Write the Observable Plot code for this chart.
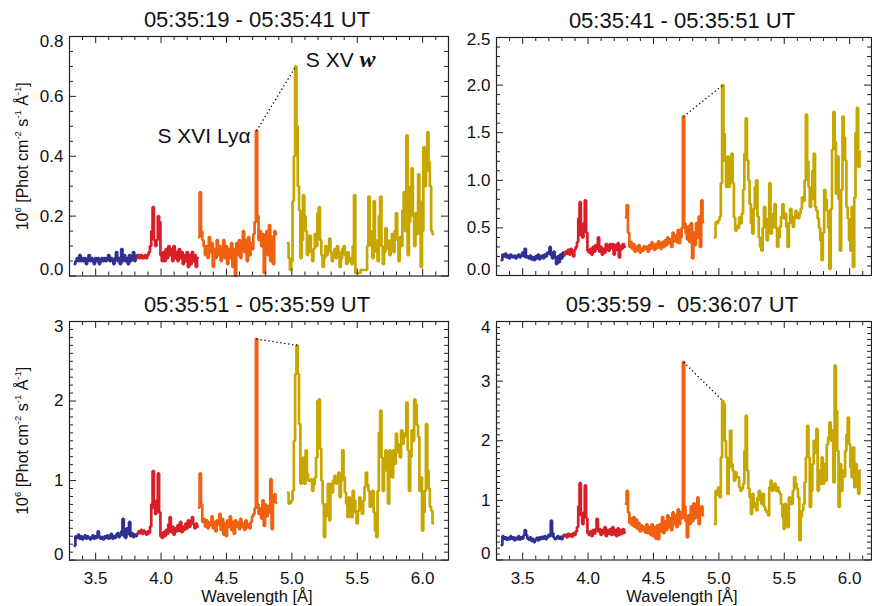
<!DOCTYPE html>
<html>
<head>
<meta charset="utf-8">
<script src="https://cdn.jsdelivr.net/npm/d3@7"></script>
<script src="https://cdn.jsdelivr.net/npm/@observablehq/plot@0.6"></script>
<style>
  body { margin: 0; background: #fff; }
  #chart { position: relative; width: 872px; height: 606px; overflow: hidden; background: #fff; }
  #chart svg { position: absolute; }
  #chart text { white-space: pre; }
</style>
</head>
<body>
<div id="chart"></div>
<script>
// ---------------- DATA ----------------
// wavelength grid (Å) of each detector segment: start and sampling step
const segStart = { blue: 3.34, red: 3.82, orange: 4.29, yellow: 4.97 };
const segStep = 0.01;

const titles = [
  "05:35:19 - 05:35:41 UT",
  "05:35:41 - 05:35:51 UT",
  "05:35:51 - 05:35:59 UT",
  "05:35:59 -  05:36:07 UT"
];

// Panel 1: 05:35:19 - 05:35:41
const p1Blue = [0.04,0.05,0.06,0.05,0.07,0.05,0.06,0.05,0.06,0.04, 0.05,0.07,0.05,0.06,0.05,0.04,0.06,0.05,0.06,0.04, 0.05,0.06,0.05,0.06,0.05,0.06,0.07,0.05,0.06,0.05, 0.04,0.06,0.08,0.05,0.06,0.04,0.09,0.05,0.07,0.05, 0.06,0.04,0.07,0.05,0.06,0.08,0.05,0.06,0.07];
const p1Red = [0.06,0.07,0.06,0.07,0.06,0.06,0.07,0.06,0.07,0.08, 0.10,0.15,0.23,0.12,0.10,0.12,0.20,0.18,0.07,0.05, 0.08,0.05,0.09,0.06,0.10,0.07,0.09,0.05,0.10,0.06, 0.08,0.05,0.09,0.06,0.08,0.04,0.07,0.05,0.08,0.03, 0.07,0.04,0.08,0.05,0.07,0.03,0.06];
const p1Orange = [0.13,0.28,0.15,0.12,0.10,0.07,0.10,0.06,0.13,0.08, 0.11,0.03,0.09,0.06,0.12,0.07,0.10,0.05,0.08,0.12, 0.06,0.10,0.04,0.09,0.06,0.11,0.03,0.09,0.00,0.11, 0.07,0.12,0.06,0.10,0.15,0.08,0.12,0.05,0.13,0.07, 0.11,0.09,0.14,0.18,0.485,0.20,0.12,0.15,0.10,0.14, 0.01,0.11,0.15,0.07,0.17,0.05,0.13,0.04,0.15,0.14];
const p1Yellow = [0.11,0.06,0.02,0.05,0.25,0.40,0.70,0.50,0.30,0.22, 0.06,0.12,0.27,0.20,0.15,0.07,0.10,0.135,0.08,0.05, 0.09,0.14,0.10,0.21,0.23,0.12,0.07,0.03,0.06,0.10, 0.07,0.09,0.125,0.08,0.05,0.07,0.09,0.06,0.10,0.08, 0.03,0.06,0.09,0.10,0.07,0.04,0.08,0.05,0.06,0.04, 0.10,0.27,0.01,0.01,0.01,0.01,0.02,0.02,0.02,0.02, 0.02,0.10,0.265,0.15,0.10,0.06,0.25,0.12,0.08,0.05, 0.20,0.265,0.10,0.04,0.08,0.16,0.12,0.09,0.07,0.12, 0.14,0.08,0.15,0.21,0.12,0.05,0.13,0.10,0.22,0.28, 0.15,0.47,0.07,0.18,0.30,0.36,0.20,0.10,0.21,0.14, 0.34,0.25,0.03,0.15,0.43,0.30,0.35,0.48,0.38,0.30, 0.15,0.14];

// Panel 2: 05:35:41 - 05:35:51
const p2Blue = [0.16,0.22,0.20,0.23,0.19,0.21,0.18,0.22,0.20,0.19, 0.21,0.18,0.20,0.22,0.19,0.21,0.24,0.20,0.28,0.19, 0.20,0.18,0.21,0.17,0.19,0.16,0.20,0.18,0.22,0.17, 0.19,0.21,0.18,0.22,0.20,0.24,0.23,0.30,0.21,0.18, 0.25,0.19,0.12,0.20,0.14,0.22,0.18,0.24,0.21];
const p2Red = [0.22,0.25,0.23,0.27,0.22,0.28,0.25,0.20,0.27,0.30, 0.35,0.60,0.77,0.42,0.40,0.55,0.79,0.45,0.26,0.24, 0.28,0.22,0.30,0.25,0.32,0.28,0.40,0.25,0.30,0.22, 0.28,0.24,0.33,0.30,0.26,0.33,0.29,0.33,0.22,0.32, 0.27,0.34,0.19,0.31,0.28,0.33,0.30];
const p2Orange = [0.61,0.74,0.45,0.30,0.35,0.28,0.33,0.25,0.30,0.26, 0.32,0.24,0.28,0.26,0.31,0.28,0.30,0.25,0.32,0.28, 0.35,0.30,0.27,0.33,0.29,0.36,0.31,0.28,0.35,0.30, 0.37,0.32,0.40,0.34,0.38,0.30,0.45,0.36,0.42,0.35, 0.48,0.34,0.40,0.50,1.67,0.55,0.45,0.38,0.52,0.35, 0.55,0.18,0.45,0.32,0.55,0.40,0.62,0.30,0.79,0.56];
const p2Yellow = [0.40,0.56,0.55,0.58,0.62,0.97,2.00,1.49,1.20,0.93, 1.25,0.93,1.10,1.28,0.97,0.61,0.47,0.52,0.50,0.61, 0.55,0.65,0.90,1.28,1.65,1.21,1.00,0.75,0.55,0.44, 0.70,0.93,1.00,0.62,0.40,0.30,0.26,0.50,0.72,0.55, 0.37,0.60,0.97,0.44,0.50,0.65,0.75,0.50,0.30,0.40, 0.51,0.62,0.75,0.60,0.65,0.51,0.30,0.55,0.70,0.62, 0.51,0.60,0.68,0.66,0.60,0.65,0.70,0.82,0.78,1.00, 1.69,1.20,0.93,0.72,0.80,1.10,1.28,0.72,0.68,0.60, 0.50,0.37,0.16,0.45,0.90,0.80,0.68,0.50,0.07,0.70, 1.32,1.72,1.40,0.86,1.25,0.80,0.26,0.90,1.67,1.45, 1.21,0.72,0.60,0.37,0.26,0.72,0.09,0.82,1.50,1.76, 1.14,1.30];

// Panel 3: 05:35:51 - 05:35:59
const p3Blue = [0.18,0.30,0.28,0.32,0.27,0.30,0.26,0.29,0.31,0.27, 0.30,0.28,0.26,0.29,0.31,0.27,0.30,0.28,0.36,0.30, 0.27,0.29,0.26,0.30,0.28,0.31,0.27,0.29,0.33,0.27, 0.30,0.28,0.32,0.34,0.29,0.31,0.36,0.52,0.30,0.28, 0.40,0.33,0.48,0.30,0.34,0.29,0.32,0.30,0.33];
const p3Red = [0.33,0.36,0.34,0.38,0.33,0.37,0.35,0.32,0.36,0.34, 0.42,0.70,1.12,0.65,0.58,0.75,1.09,0.60,0.30,0.28, 0.35,0.30,0.38,0.33,0.45,0.54,0.35,0.42,0.32,0.40, 0.36,0.44,0.37,0.48,0.35,0.42,0.38,0.46,0.40,0.50, 0.42,0.47,0.54,0.45,0.40,0.46,0.42];
const p3Orange = [0.66,1.09,0.70,0.48,0.52,0.42,0.50,0.40,0.47,0.44, 0.55,0.40,0.48,0.36,0.50,0.45,0.58,0.38,0.52,0.32, 0.46,0.30,0.50,0.42,0.55,0.38,0.48,0.33,0.50,0.42, 0.47,0.39,0.52,0.42,0.46,0.38,0.50,0.41,0.45,0.40, 0.48,0.55,0.58,0.65,2.78,0.70,0.58,0.65,0.52,0.75, 0.43,0.70,0.55,0.68,0.60,1.02,0.39,0.75,0.83,0.72];
const p3Yellow = [0.85,0.71,0.72,0.75,0.87,1.50,2.34,2.70,2.34,1.71, 0.96,1.10,1.29,0.96,1.38,1.08,1.00,1.00,1.02,0.87, 0.95,1.04,1.29,2.00,2.02,1.40,1.00,0.71,0.29,0.55, 0.71,0.96,0.50,0.96,0.85,1.00,1.06,0.96,1.05,1.10, 0.79,1.00,1.38,1.04,0.85,0.71,0.54,0.79,0.65,0.54, 0.87,0.75,0.60,0.46,0.62,0.79,0.71,0.58,0.75,0.92, 1.10,0.95,0.87,0.67,0.71,0.87,0.60,0.37,0.29,0.87, 1.60,1.88,1.29,0.87,1.20,1.38,1.12,0.71,1.38,1.10, 1.04,1.38,1.21,1.59,1.46,1.35,1.29,1.63,1.46,1.55, 1.60,1.98,1.38,0.87,1.30,1.63,1.50,2.02,1.96,1.70, 1.55,0.87,1.04,0.37,0.60,0.87,1.71,1.13,0.90,0.67, 0.62,0.46];

// Panel 4: 05:35:59 - 05:36:07
const p4Blue = [0.25,0.40,0.36,0.38,0.34,0.37,0.35,0.40,0.36,0.38, 0.33,0.37,0.35,0.40,0.34,0.38,0.36,0.41,0.50,0.42, 0.36,0.34,0.38,0.32,0.35,0.30,0.34,0.37,0.33,0.38, 0.35,0.39,0.36,0.40,0.35,0.38,0.42,0.40,0.66,0.45, 0.38,0.35,0.37,0.40,0.36,0.39,0.35,0.40,0.42];
const p4Red = [0.40,0.42,0.38,0.44,0.40,0.43,0.39,0.45,0.42,0.48, 0.55,0.90,1.29,0.75,0.60,0.80,1.25,0.70,0.45,0.42, 0.48,0.40,0.50,0.44,0.52,0.69,0.48,0.52,0.42,0.50, 0.45,0.55,0.40,0.50,0.44,0.52,0.42,0.55,0.43,0.50, 0.40,0.53,0.42,0.50,0.44,0.52,0.46];
const p4Orange = [0.94,1.16,0.80,0.62,0.70,0.58,0.72,0.55,0.68,0.52, 0.62,0.48,0.58,0.50,0.55,0.46,0.60,0.45,0.55,0.42, 0.60,0.40,0.55,0.36,0.58,0.35,0.60,0.48,0.72,0.45, 0.65,0.50,0.75,0.55,0.70,0.50,0.80,0.60,0.75,0.55, 0.85,0.60,0.80,0.70,3.32,0.90,0.65,0.38,0.75,0.60, 0.90,0.65,0.95,0.70,0.85,1.05,0.60,0.80,0.90,0.75];
const p4Yellow = [0.60,1.16,1.10,1.22,1.05,1.72,2.67,2.62,2.00,1.72, 1.11,1.55,2.17,1.61,1.50,1.33,1.47,1.39,1.39,1.22, 1.16,1.20,1.28,1.83,2.42,1.50,1.20,1.05,0.77,1.11, 0.89,0.95,0.83,1.05,1.16,1.00,0.94,1.11,0.89,0.83, 0.80,0.75,1.22,1.33,1.16,1.20,1.28,1.16,1.22,1.15, 1.11,0.94,0.72,0.52,0.94,0.66,0.55,1.05,0.94,0.94, 1.16,1.39,1.28,1.20,1.05,0.33,0.72,0.83,0.94,1.30, 1.72,2.25,1.72,0.89,1.16,1.61,2.00,1.80,2.20,1.16, 1.50,1.28,1.72,1.28,1.61,1.33,1.94,2.06,2.31,2.00, 2.17,1.30,3.26,2.50,1.83,0.89,1.61,1.16,1.50,1.40, 1.83,2.10,2.39,1.94,1.55,1.39,1.89,1.22,1.61,1.39, 1.11,1.50];

// S XVI Lyα peak and S XV w peak (wavelength, flux) joined by the dotted line
const lyaPeak = [[4.73, 0.485], [4.73, 1.67], [4.73, 2.78], [4.73, 3.32]];
const wPeak   = [[5.03, 0.70], [5.03, 2.00], [5.04, 2.70], [5.03, 2.67]];

// axis ticks
const xMajorTicks = [3.5, 4.0, 4.5, 5.0, 5.5, 6.0];
const yMajorTicks = [
  [0, 0.2, 0.4, 0.6, 0.8],
  [0, 0.5, 1.0, 1.5, 2.0, 2.5],
  [0, 1, 2, 3],
  [0, 1, 2, 3, 4]
];
const yTickLabels = [
  ["0.0", "0.2", "0.4", "0.6", "0.8"],
  ["0.0", "0.5", "1.0", "1.5", "2.0", "2.5"],
  ["0", "1", "2", "3"],
  ["0", "1", "2", "3", "4"]
];
const yMinorStep = [0.05, 0.1, 0.1, 0.1];

const xLabel = "Wavelength [Å]";
const yLabelParts = [["10", false], ["6", true], [" [Phot cm", false], ["-2", true], [" s", false], ["-1", true], [" Å", false], ["-1", true], ["]", false]];
const yLabelText = yLabelParts.map(d => d[0]).join("");
const lineLabels = ["S XVI Lyα", "S XV w"];

const panelSeries = [
  { blue: p1Blue, red: p1Red, orange: p1Orange, yellow: p1Yellow },
  { blue: p2Blue, red: p2Red, orange: p2Orange, yellow: p2Yellow },
  { blue: p3Blue, red: p3Red, orange: p3Orange, yellow: p3Yellow },
  { blue: p4Blue, red: p4Red, orange: p4Orange, yellow: p4Yellow }
];

// ---------------- STYLE / LAYOUT ----------------
const colors = { blue: "#2e3192", red: "#d81e28", orange: "#f1600f", yellow: "#c8a600" };
const FONT = "'Liberation Sans', Arial, Helvetica, sans-serif";
const PX_PER_A = 130.8;
const layout = [
  { left: 0,   top: 0,   width: 460, height: 290, mt: 36, mb: 14.5, ml: 69, mr: 12, bottomLabels: false, yLabel: true },
  { left: 436, top: 0,   width: 436, height: 290, mt: 37, mb: 15,   ml: 60, mr: 1,  bottomLabels: false, yLabel: false },
  { left: 0,   top: 290, width: 460, height: 316, mt: 31, mb: 46.4, ml: 69, mr: 12, bottomLabels: true,  yLabel: true },
  { left: 436, top: 290, width: 436, height: 316, mt: 31, mb: 46.5, ml: 60, mr: 1,  bottomLabels: true,  yLabel: false }
];
const topLabelShift = [5, 2, 5, 6];

function rowsFor(series) {
  const rows = [];
  for (const band of ["blue", "red", "orange", "yellow"]) {
    series[band].forEach((v, i) => rows.push({ band, w: +(segStart[band] + i * segStep).toFixed(3), v }));
  }
  return rows;
}

const chart = document.getElementById("chart");

layout.forEach((L, k) => {
  const fw = L.width - L.ml - L.mr;
  const fh = L.height - L.mt - L.mb;
  const xDomain = [3.3, 3.3 + fw / PX_PER_A];
  const yMajor = yMajorTicks[k];
  const yMax = yMajor[yMajor.length - 1];
  const yMinor = d3.range(0, yMax + 1e-9, yMinorStep[k]).map(v => +v.toFixed(3))
    .filter(v => !yMajor.some(m => Math.abs(m - v) < 1e-6));
  const xMinor = d3.range(3.4, xDomain[1], 0.1).map(v => +v.toFixed(2))
    .filter(v => !xMajorTicks.some(m => Math.abs(m - v) < 1e-6));
  const rows = rowsFor(panelSeries[k]);
  const labelIdx = yMajor.map((d, i) => i);
  const tickStroke = { stroke: "#222", strokeWidth: 1 };

  const marks = [];
  for (const band of ["blue", "red", "orange", "yellow"]) {
    marks.push(Plot.line(rows.filter(r => r.band === band), {
      x: "w", y: "v", stroke: colors[band], strokeWidth: 2.7, curve: "step", strokeLinejoin: "miter"
    }));
  }
  marks.push(Plot.link([0], {
    x1: () => lyaPeak[k][0], y1: () => lyaPeak[k][1],
    x2: () => wPeak[k][0], y2: () => wPeak[k][1],
    stroke: "#000", strokeWidth: 1.3, strokeDasharray: "1.3,2.7"
  }));
  marks.push(Plot.frame({ stroke: "#222", strokeWidth: 1.2 }));
  // inward tick marks on all four sides
  marks.push(
    Plot.tickX(xMinor, { x: d => d, insetTop: fh - 4, ...tickStroke }),
    Plot.tickX(xMinor, { x: d => d, insetBottom: fh - 4, ...tickStroke }),
    Plot.tickX(xMajorTicks, { x: d => d, insetTop: fh - 7, ...tickStroke }),
    Plot.tickX(xMajorTicks, { x: d => d, insetBottom: fh - 7, ...tickStroke }),
    Plot.tickY(yMinor, { y: d => d, insetRight: fw - 4, ...tickStroke }),
    Plot.tickY(yMinor, { y: d => d, insetLeft: fw - 4, ...tickStroke }),
    Plot.tickY(yMajor, { y: d => d, insetRight: fw - 7, ...tickStroke }),
    Plot.tickY(yMajor, { y: d => d, insetLeft: fw - 7, ...tickStroke })
  );
  // y tick labels (end labels nudged inside the frame as in the reference)
  const ylab = yTickLabels[k];
  const last = ylab.length - 1;
  const yText = { frameAnchor: "left", textAnchor: "end", lineAnchor: "middle", dx: -6, fontSize: 17, fill: "#111" };
  marks.push(
    Plot.text(labelIdx.filter(i => i > 0 && i < last), { ...yText, y: i => yMajor[i], text: i => ylab[i] }),
    Plot.text([0], { ...yText, y: i => yMajor[i], text: i => ylab[i], dy: -6 }),
    Plot.text([last], { ...yText, y: i => yMajor[i], text: i => ylab[i], dy: topLabelShift[k] })
  );
  // title
  marks.push(Plot.text([titles[k]], { frameAnchor: "top", lineAnchor: "middle", textAnchor: "middle", dy: -16.5, dx: -2, fontSize: 22, fill: "#111", text: d => d }));
  if (L.bottomLabels) {
    marks.push(
      Plot.text(xMajorTicks, { x: d => d, frameAnchor: "bottom", lineAnchor: "top", textAnchor: "middle", dy: 12, fontSize: 17, fill: "#111", text: d => d.toFixed(1) }),
      Plot.text([xLabel], { frameAnchor: "bottom", lineAnchor: "middle", textAnchor: "middle", dy: 37, dx: -2, fontSize: 16.5, fill: "#111", text: d => d })
    );
  }
  if (L.yLabel) {
    marks.push(Plot.text([yLabelText], { frameAnchor: "left", textAnchor: "middle", lineAnchor: "middle", rotate: -90, dx: -47, fontSize: 16, fill: "#111", text: d => d }));
  }
  if (k === 0) {
    marks.push(
      Plot.text([lineLabels[0]], { x: () => lyaPeak[0][0], y: () => lyaPeak[0][1], dx: -6, dy: 5, textAnchor: "end", lineAnchor: "middle", fontSize: 21, fill: "#111", text: d => d }),
      Plot.text([lineLabels[1]], { x: () => wPeak[0][0], y: () => wPeak[0][1], dx: 10, dy: -6, textAnchor: "start", lineAnchor: "middle", fontSize: 21, fill: "#111", text: d => d })
    );
  }

  const svg = Plot.plot({
    width: L.width, height: L.height,
    marginTop: L.mt, marginBottom: L.mb, marginLeft: L.ml, marginRight: L.mr,
    x: { domain: xDomain, axis: null },
    y: { domain: [0, yMax], axis: null },
    style: { background: "transparent", overflow: "visible", maxWidth: "none", fontFamily: FONT },
    marks
  });
  svg.style.left = L.left + "px";
  svg.style.top = L.top + "px";
  chart.appendChild(svg);

  // superscripts in the y label and italic serif "w"
  d3.select(svg).selectAll("text").each(function () {
    const t = d3.select(this);
    if (this.textContent === yLabelText) {
      t.text(null);
      let raised = false;
      yLabelParts.forEach(([s, sup]) => {
        const ts = t.append("tspan").text(s);
        if (sup && !raised) { ts.attr("dy", -6.5).attr("font-size", 9.5); raised = true; }
        else if (sup) { ts.attr("font-size", 9.5); }
        else if (raised) { ts.attr("dy", 6.5); raised = false; }
      });
    } else if (this.textContent === lineLabels[1]) {
      t.text(null);
      t.append("tspan").text("S XV ");
      t.append("tspan").text("w").attr("font-family", "'Liberation Serif', 'Times New Roman', serif")
        .attr("font-style", "italic").attr("font-weight", "bold").attr("font-size", 24);
    }
  });
});
</script>
</body>
</html>
